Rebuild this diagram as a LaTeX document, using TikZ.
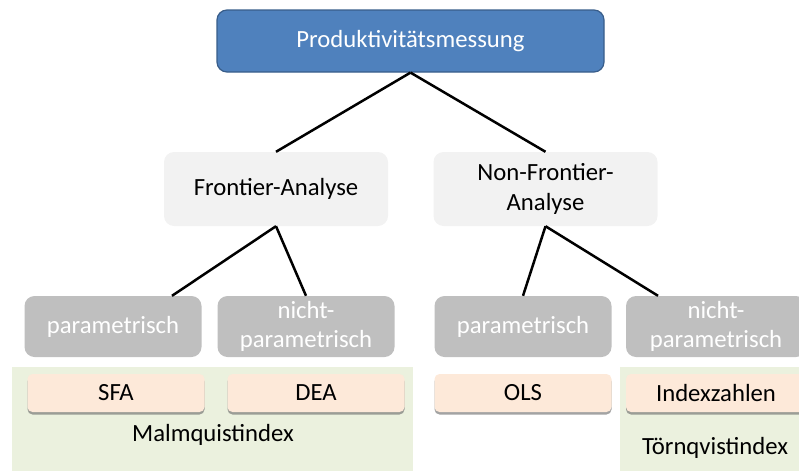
\documentclass[tikz,border=0pt]{standalone}
\usepackage{fontspec}
\setmainfont{Carlito}
\usepackage{tikz}
\usetikzlibrary{shadows}

\definecolor{kopfblau}{HTML}{4F81BD}
\definecolor{kopfrand}{HTML}{385D8A}
\definecolor{hellgrau}{HTML}{F2F2F2}
\definecolor{mittelgrau}{HTML}{BFBFBF}
\definecolor{pfirsich}{HTML}{FDE9D9}
\definecolor{hellgruen}{HTML}{EBF1DE}

\tikzset{
	kopf/.style = {draw=kopfrand, line width=1.2pt, fill=kopfblau, rounded corners=10pt, text=white, minimum width=387pt, minimum height=62pt},
	ebene/.style = {fill=hellgrau, rounded corners=10pt, minimum width=224pt, minimum height=74pt, align=center},
	art/.style = {fill=mittelgrau, rounded corners=10pt, text=white, minimum width=177pt, minimum height=61pt, align=center},
	methode/.style = {fill=pfirsich, rounded corners=5pt, minimum width=177pt, minimum height=38pt,
		drop shadow={shadow xshift=0pt, shadow yshift=-2.5pt, opacity=.6, fill=black!60}},
	ast/.style = {line width=2.5pt}
}

\begin{document}
\begin{tikzpicture}[x=1pt, y=-1pt, font=\fontsize{24.7}{29.5}\selectfont]
	\useasboundingbox (0,0) rectangle (799,471);
	% Hintergrund
	\fill[hellgruen] (12,367) rectangle (413,471);
	\fill[hellgruen] (620,367) rectangle (799,471);

	\node[kopf] (pm) at (410.5,41) {Produktivitätsmessung};

	\node[ebene] (fa) at (276,189) {Frontier-Analyse};
	\node[ebene] (nfa) at (545.5,189) {Non-Frontier-\\Analyse};

	\node[art] (p1) at (113,326.5) {parametrisch};
	\node[art] (n1) at (306,326.5) {nicht-\\parametrisch};
	\node[art] (p2) at (523,326.5) {parametrisch};
	\node[art, minimum width=180pt] (n2) at (716,326.5) {nicht-\\parametrisch};

	\node[methode] (sfa) at (116,393) {SFA};
	\node[methode] (dea) at (316,393) {DEA};
	\node[methode] (ols) at (523,393) {OLS};
	\node[methode, minimum width=180pt] (idx) at (716,393) {Indexzahlen};

	\node (mq) at (213,435) {Malmquistindex};
	\node (tq) at (715,448) {Törnqvistindex};

	\draw[ast] (pm.south) -- (fa.north);
	\draw[ast] (pm.south) -- (nfa.north);
	\draw[ast] (fa.south) -- ([xshift=59pt]p1.north);
	\draw[ast] (fa.south) -- (n1.north);
	\draw[ast] (nfa.south) -- (p2.north);
	\draw[ast] (nfa.south) -- ([xshift=-58pt]n2.north);
\end{tikzpicture}
\end{document}
